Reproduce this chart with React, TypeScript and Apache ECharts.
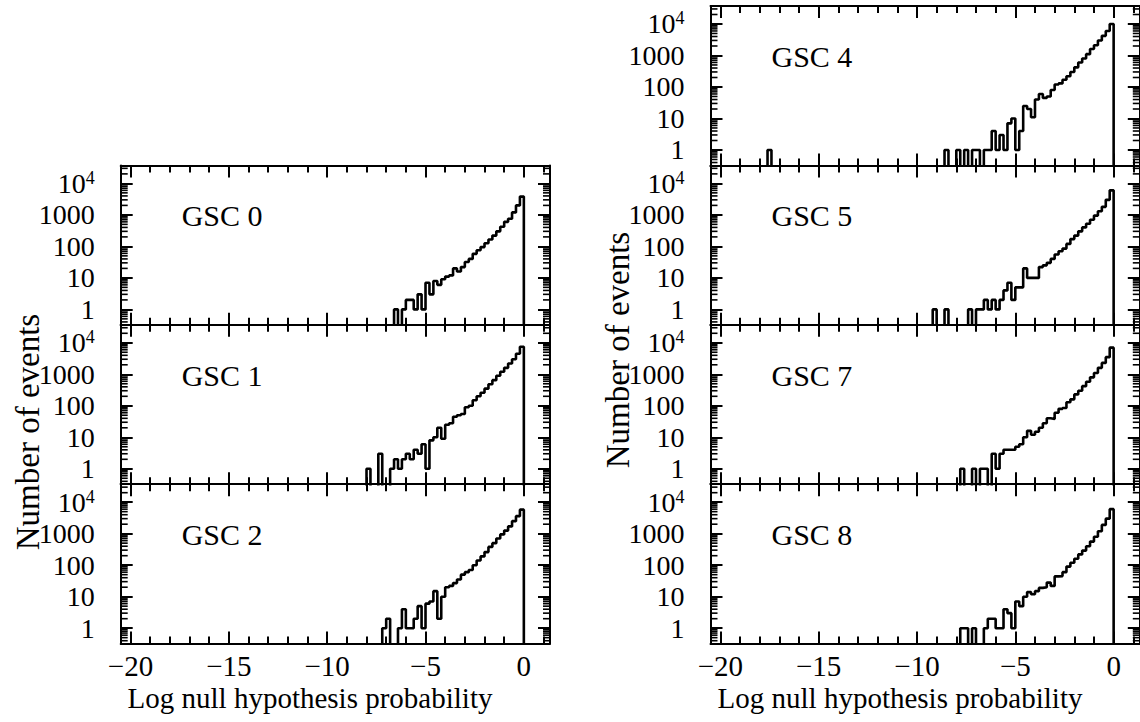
import React, { useEffect, useRef } from "react";
import * as echarts from "echarts";

// ---------- data ----------
const BIN_START = -10; // left edge of the first bin (log null hypothesis probability)
const BIN_WIDTH = 0.2;
const EMPTY_LEVEL = 0.01; // empty bins are drawn below the axis minimum (clipped)

const GSC0_COUNTS = [
  0, 0, 0, 0, 0, 0, 0, 0, 0, 0, 0, 0, 0, 0, 0, 0, 0, 1, 0, 1,
  2, 2, 1, 3, 1, 7, 3, 8, 6, 9, 11, 12, 20, 16, 22, 32, 40, 58, 75, 95,
  125, 165, 220, 300, 420, 600, 750, 1200, 2000, 3800,
];
const GSC1_COUNTS = [
  0, 0, 0, 0, 0, 0, 0, 0, 0, 0, 1, 0, 0, 3, 0, 0, 1, 2, 1, 2,
  3, 2, 4, 3, 6, 1, 8, 10, 20, 9, 25, 28, 45, 50, 55, 90, 100, 150, 200, 260,
  350, 480, 650, 900, 1200, 1600, 2200, 3000, 4500, 7500,
];
const GSC2_COUNTS = [
  0, 0, 0, 0, 0, 0, 0, 0, 0, 0, 0, 0, 0, 0, 1, 2, 0, 0, 1, 4,
  1, 1, 2, 5, 1, 6, 7, 15, 2, 10, 20, 22, 27, 35, 50, 60, 70, 100, 140, 190,
  260, 380, 500, 700, 950, 1250, 1700, 2500, 3600, 5800,
];
const GSC4_COUNTS = [
  0, 0, 0, 0, 0, 0, 0, 1, 0, 0, 1, 0, 1, 0, 1, 1, 0, 1, 1, 4,
  1, 3, 1, 7, 10, 1, 4, 25, 20, 11, 40, 60, 45, 50, 80, 120, 130, 170, 220, 300,
  420, 600, 800, 1100, 1600, 2100, 3000, 4200, 6000, 10000,
];
const GSC4_FAR_BINS: [number, number][] = [[-17.6, 1]];
const GSC5_COUNTS = [
  0, 0, 0, 0, 1, 0, 0, 1, 0, 0, 0, 0, 0, 1, 0, 1, 1, 2, 1, 2,
  1, 2, 4, 7, 2, 5, 5, 20, 10, 10, 10, 22, 25, 30, 40, 55, 70, 85, 120, 170,
  220, 300, 400, 520, 700, 950, 1300, 1800, 3000, 6000,
];
const GSC7_COUNTS = [
  0, 0, 0, 0, 0, 0, 0, 0, 0, 0, 0, 1, 0, 0, 1, 0, 1, 1, 0, 3,
  1, 3, 4, 4, 4, 5, 6, 10, 16, 12, 15, 20, 28, 40, 38, 60, 80, 85, 130, 160,
  230, 300, 420, 580, 800, 1100, 1600, 2300, 3500, 7000,
];
const GSC8_COUNTS = [
  0, 0, 0, 0, 0, 0, 0, 0, 0, 0, 0, 1, 1, 0, 1, 0, 0, 1, 2, 2,
  1, 1, 4, 3, 1, 7, 5, 10, 14, 12, 15, 19, 20, 28, 22, 44, 45, 60, 90, 120,
  160, 220, 290, 400, 560, 800, 1200, 1900, 3000, 6000,
];

const Y_MINOR_TICKS = [
  0.4, 0.5, 0.6, 0.7, 0.8, 0.9,
  2, 3, 4, 5, 6, 7, 8, 9,
  20, 30, 40, 50, 60, 70, 80, 90,
  200, 300, 400, 500, 600, 700, 800, 900,
  2000, 3000, 4000, 5000, 6000, 7000, 8000, 9000,
  20000, 30000,
];

const X_TITLE = "Log null hypothesis probability";
const Y_TITLE = "Number of events";

// ---------- layout / style ----------
const X_MIN = -20.5;
const X_MAX = 1.33;
const Y_MIN = 0.324;
const Y_MAX = 37200;
const COL_LEFT = [120.7, 710.5];
const ROW_TOP = [6, 165.4, 324.8, 484.2];
const GRID_W = 429.3;
const GRID_H = 159.4;
const FONT = '"Liberation Serif", "Times New Roman", serif';
const TICK_FONT = 28;
const BLACK = "#000";

const PANELS = [
  { name: "GSC 0", counts: GSC0_COUNTS, far: [] as [number, number][], col: 0, row: 1 },
  { name: "GSC 1", counts: GSC1_COUNTS, far: [] as [number, number][], col: 0, row: 2 },
  { name: "GSC 2", counts: GSC2_COUNTS, far: [] as [number, number][], col: 0, row: 3 },
  { name: "GSC 4", counts: GSC4_COUNTS, far: GSC4_FAR_BINS, col: 1, row: 0 },
  { name: "GSC 5", counts: GSC5_COUNTS, far: [] as [number, number][], col: 1, row: 1 },
  { name: "GSC 7", counts: GSC7_COUNTS, far: [] as [number, number][], col: 1, row: 2 },
  { name: "GSC 8", counts: GSC8_COUNTS, far: [] as [number, number][], col: 1, row: 3 },
];

function histogramPoints(counts: number[], far: [number, number][]) {
  const lift = (c: number) => (c > 0 ? c : EMPTY_LEVEL);
  const pts: [number, number][] = [];
  far.forEach(([edge, c]) => {
    pts.push([+(edge - BIN_WIDTH).toFixed(2), EMPTY_LEVEL]);
    pts.push([edge, lift(c)]);
    pts.push([+(edge + BIN_WIDTH).toFixed(2), EMPTY_LEVEL]);
  });
  counts.forEach((c, i) => pts.push([+(BIN_START + i * BIN_WIDTH).toFixed(2), lift(c)]));
  pts.push([+(BIN_START + counts.length * BIN_WIDTH).toFixed(2), EMPTY_LEVEL]);
  return pts;
}

const xLabelFormatter = (v: number) => {
  if (Math.abs(v / 5 - Math.round(v / 5)) > 1e-6) return "";
  const r = Math.round(v);
  return r < 0 ? "\u2212" + Math.abs(r) : String(r);
};

const yLabelFormatter = (v: number) => {
  const l = Math.log10(v);
  const r = Math.round(l);
  if (Math.abs(l - r) > 1e-6 || r < 0) return "";
  if (r >= 4) return "{a|10}{s|" + r + "}";
  return "{a|" + String(Math.round(v)) + "}";
};

function buildOption() {
  const grids: any[] = [];
  const xAxes: any[] = [];
  const yAxes: any[] = [];
  const series: any[] = [];
  const graphics: any[] = [];
  const lineStyle = { color: BLACK, width: 2 };

  PANELS.forEach((p, k) => {
    const left = COL_LEFT[p.col];
    const top = ROW_TOP[p.row];
    const isBottom = p.row === 3;
    grids.push({
      left,
      top,
      width: GRID_W,
      height: GRID_H,
      containLabel: false,
      outerBoundsMode: "none",
      show: false,
    });
    ["bottom", "top"].forEach((pos) => {
      xAxes.push({
        gridIndex: k,
        type: "value",
        position: pos,
        min: X_MIN,
        max: X_MAX,
        axisLine: { show: true, onZero: false, lineStyle },
        axisTick: { show: true, inside: true, length: 12, lineStyle },
        minorTick: { show: true, splitNumber: 5, length: 7, lineStyle },
        splitLine: { show: false },
        minorSplitLine: { show: false },
        axisLabel: {
          show: pos === "bottom" && isBottom,
          formatter: xLabelFormatter,
          fontFamily: FONT,
          fontSize: 29,
          color: BLACK,
          margin: 8,
          hideOverlap: false,
        },
      });
    });
    ["left", "right"].forEach((pos) => {
      yAxes.push({
        gridIndex: k,
        type: "log",
        logBase: 10,
        position: pos,
        min: Y_MIN,
        max: Y_MAX,
        axisLine: { show: true, onZero: false, lineStyle },
        axisTick: { show: true, inside: true, length: 12, lineStyle },
        splitLine: { show: false },
        axisLabel: {
          show: pos === "left",
          formatter: yLabelFormatter,
          margin: 26,
          hideOverlap: false,
          rich: {
            a: { fontFamily: FONT, fontSize: TICK_FONT, color: BLACK, lineHeight: 29 },
            s: { fontFamily: FONT, fontSize: 18, color: BLACK, lineHeight: 18, verticalAlign: "top" },
          },
        },
      });
    });
    series.push({
      type: "line",
      name: p.name,
      xAxisIndex: 2 * k,
      yAxisIndex: 2 * k,
      step: "end",
      showSymbol: false,
      symbol: "none",
      clip: true,
      lineStyle: { color: BLACK, width: 2.6 },
      data: histogramPoints(p.counts, p.far),
      z: 3,
    });
    series.push({
      type: "custom",
      xAxisIndex: 2 * k,
      yAxisIndex: 2 * k,
      silent: true,
      data: Y_MINOR_TICKS.map((v) => [X_MIN, v]),
      renderItem: (params: any, api: any) => {
        const v = api.value(1);
        const pl = api.coord([X_MIN, v]);
        const pr = api.coord([X_MAX, v]);
        const st = { stroke: BLACK, lineWidth: 1.6 };
        return {
          type: "group",
          children: [
            { type: "line", shape: { x1: pl[0], y1: pl[1], x2: pl[0] + 7, y2: pl[1] }, style: st },
            { type: "line", shape: { x1: pr[0], y1: pr[1], x2: pr[0] - 7, y2: pr[1] }, style: st },
          ],
        };
      },
      z: 4,
    });
    graphics.push({
      type: "text",
      x: left + 61,
      y: top + 50.5,
      style: {
        text: p.name,
        font: "30px " + FONT,
        fill: BLACK,
        align: "left",
        verticalAlign: "middle",
      },
    });
  });

  // axis titles
  graphics.push(
    {
      type: "text",
      x: 310,
      y: 698,
      style: { text: X_TITLE, font: "29px " + FONT, fill: BLACK, align: "center", verticalAlign: "middle" },
    },
    {
      type: "text",
      x: 900,
      y: 698,
      style: { text: X_TITLE, font: "29px " + FONT, fill: BLACK, align: "center", verticalAlign: "middle" },
    },
    {
      type: "text",
      x: 28,
      y: 432,
      rotation: Math.PI / 2,
      style: { text: Y_TITLE, font: "33px " + FONT, fill: BLACK, align: "center", verticalAlign: "middle" },
    },
    {
      type: "text",
      x: 618,
      y: 350,
      rotation: Math.PI / 2,
      style: { text: Y_TITLE, font: "33px " + FONT, fill: BLACK, align: "center", verticalAlign: "middle" },
    }
  );

  return {
    animation: false,
    backgroundColor: "#fff",
    grid: grids,
    xAxis: xAxes,
    yAxis: yAxes,
    series,
    graphic: { elements: graphics },
  };
}

export default function App() {
  const ref = useRef<HTMLDivElement>(null);
  useEffect(() => {
    if (!ref.current) return;
    const chart = echarts.init(ref.current, undefined, { renderer: "svg" });
    chart.setOption(buildOption() as any);
    return () => chart.dispose();
  }, []);
  return (
    <div
      ref={ref}
      style={{ position: "absolute", left: 0, top: 0, width: 1140, height: 722, background: "#fff" }}
    />
  );
}
